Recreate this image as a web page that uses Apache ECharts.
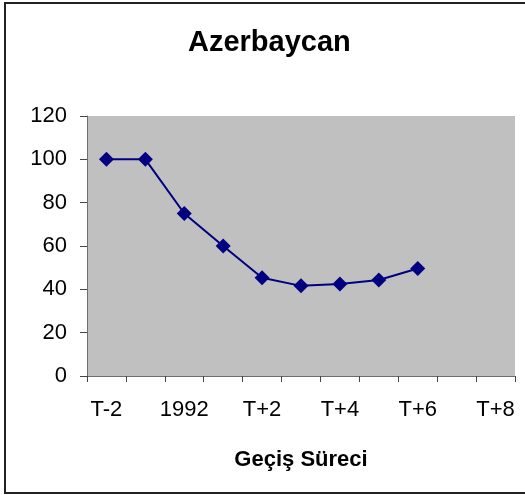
<!DOCTYPE html>
<html>
<head>
<meta charset="utf-8">
<script src="https://cdn.jsdelivr.net/npm/echarts@6/dist/echarts.min.js"></script>
<style>
html,body{margin:0;padding:0;background:#fff;}
#c{width:525px;height:495px;}
</style>
</head>
<body>
<div id="c"></div>
<script>
const chartTitle = 'Azerbaycan';
const xAxisTitle = 'Geçiş Süreci';
const categories = ['T-2','T-1','1992','T+1','T+2','T+3','T+4','T+5','T+6','T+7','T+8'];
const values = [100, 100, 75, 60, 45.3, 41.6, 42.5, 44.3, 49.6];
const yTicks = [0, 20, 40, 60, 80, 100, 120];

const chart = echarts.init(document.getElementById('c'), null, {renderer:'canvas'});
const font = '"Liberation Sans", Arial, sans-serif';
chart.setOption({
  animation: false,
  backgroundColor: '#fff',
  title: {
    text: chartTitle,
    left: 188, top: 28,
    padding: 0,
    textStyle: {fontFamily: font, fontSize: 29, fontWeight: 'bold', color: '#000'}
  },
  graphic: [{
    type: 'rect', silent: true, z: 100,
    shape: {x: 5, y: 3, width: 540, height: 490},
    style: {fill: 'none', stroke: '#222', lineWidth: 2}
  }],
  grid: {
    left: 87, right: 10, top: 116, bottom: 119,
    show: true, backgroundColor: '#C0C0C0', borderWidth: 0
  },
  xAxis: {
    type: 'category',
    data: categories,
    boundaryGap: true,
    name: xAxisTitle,
    nameLocation: 'middle',
    nameGap: 73,
    nameTextStyle: {fontFamily: font, fontSize: 22, fontWeight: 'bold', color: '#000'},
    axisLine: {show: true, lineStyle: {color: '#6e6e6e', width: 1}},
    axisTick: {show: true, interval: 0, length: 6, lineStyle: {color: '#444'}},
    axisLabel: {interval: 1, margin: 23, fontFamily: font, fontSize: 22, color: '#000'},
    splitLine: {show: false}
  },
  yAxis: {
    type: 'value',
    min: yTicks[0], max: yTicks[yTicks.length-1], interval: yTicks[1]-yTicks[0],
    axisLine: {show: true, lineStyle: {color: '#6e6e6e', width: 1}},
    axisTick: {show: true, length: 7, lineStyle: {color: '#444'}},
    axisLabel: {margin: 20, fontFamily: font, fontSize: 22, color: '#000'},
    splitLine: {show: false}
  },
  series: [{
    type: 'line',
    data: values,
    symbol: 'diamond',
    symbolSize: 15,
    itemStyle: {color: '#000080'},
    lineStyle: {color: '#000080', width: 2}
  }]
});
</script>
</body>
</html>
